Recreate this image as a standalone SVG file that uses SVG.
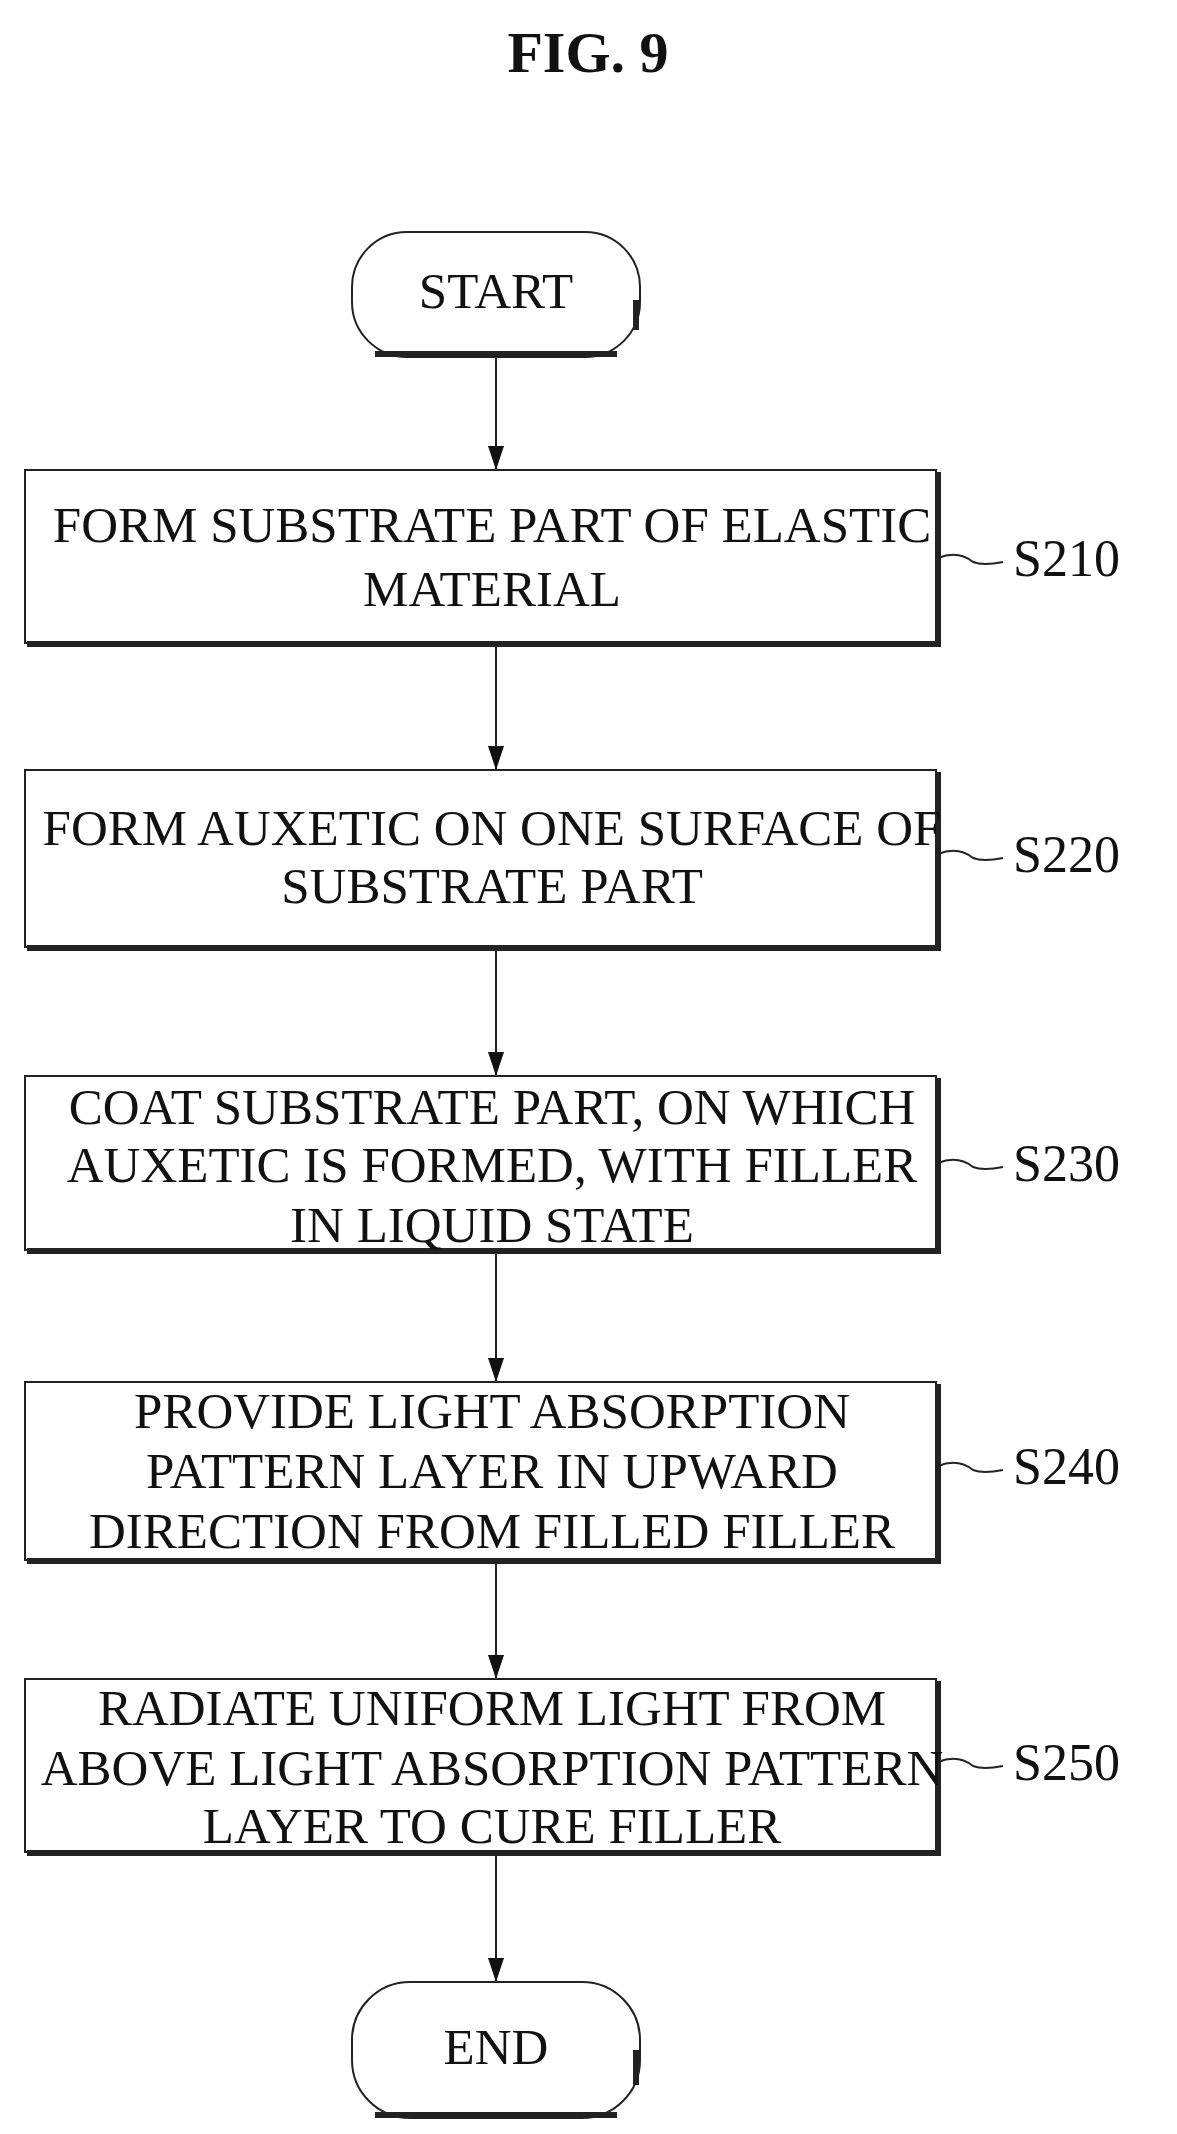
<svg xmlns="http://www.w3.org/2000/svg" width="1177" height="2134" viewBox="0 0 1177 2134">
<style>
text{font-family:"Liberation Serif","Times New Roman",serif;fill:#111;text-anchor:middle}
.t{font-size:51px}
.box{fill:#fff;stroke:#222;stroke-width:2}
.sh{fill:none;stroke:#222;stroke-width:6}
.ln{fill:none;stroke:#222;stroke-width:2}
.lb{font-size:52px;text-anchor:start}
</style>
<defs><marker id="a" markerWidth="24" markerHeight="16" refX="24" refY="8" orient="auto" markerUnits="userSpaceOnUse" viewBox="0 0 24 16"><path d="M0,0 L24,8 L0,16 Z" fill="#111"/></marker></defs>
<rect width="1177" height="2134" fill="#fff"/>
<text x="588" y="72" style="font-size:58px;font-weight:bold">FIG. 9</text>
<g id="connectors">
<line class="ln" x1="496" y1="357" x2="496" y2="470" marker-end="url(#a)"/>
<line class="ln" x1="496" y1="646" x2="496" y2="770" marker-end="url(#a)"/>
<line class="ln" x1="496" y1="950" x2="496" y2="1076" marker-end="url(#a)"/>
<line class="ln" x1="496" y1="1253" x2="496" y2="1382" marker-end="url(#a)"/>
<line class="ln" x1="496" y1="1563" x2="496" y2="1679" marker-end="url(#a)"/>
<line class="ln" x1="496" y1="1855" x2="496" y2="1982" marker-end="url(#a)"/>
</g>
<g id="start"><rect class="box" x="352" y="232" width="288" height="125" rx="55"/><path class="sh" d="M375,354 H617 M636,300 V330"/><text class="t" x="496" y="308">START</text></g>
<g id="s210"><rect class="box" x="25" y="470" width="911" height="173"/><path class="sh" d="M27,644 H938 V472"/><text class="t" x="492" y="542">FORM SUBSTRATE PART OF ELASTIC</text><text class="t" x="492" y="606">MATERIAL</text><path class="ln" d="M938,558 q20,-8 35,4 q10,4 30,0"/><text class="lb" x="1013" y="576">S210</text></g>
<g id="s220"><rect class="box" x="25" y="770" width="911" height="177"/><path class="sh" d="M27,948 H938 V772"/><text class="t" x="492" y="845">FORM AUXETIC ON ONE SURFACE OF</text><text class="t" x="492" y="903">SUBSTRATE PART</text><path class="ln" d="M938,854 q20,-8 35,4 q10,4 30,0"/><text class="lb" x="1013" y="872">S220</text></g>
<g id="s230"><rect class="box" x="25" y="1076" width="911" height="174"/><path class="sh" d="M27,1251 H938 V1078"/><text class="t" x="492" y="1124">COAT SUBSTRATE PART, ON WHICH</text><text class="t" x="492" y="1182">AUXETIC IS FORMED, WITH FILLER</text><text class="t" x="492" y="1242">IN LIQUID STATE</text><path class="ln" d="M938,1163 q20,-8 35,4 q10,4 30,0"/><text class="lb" x="1013" y="1181">S230</text></g>
<g id="s240"><rect class="box" x="25" y="1382" width="911" height="178"/><path class="sh" d="M27,1561 H938 V1384"/><text class="t" x="492" y="1428">PROVIDE LIGHT ABSORPTION</text><text class="t" x="492" y="1488">PATTERN LAYER IN UPWARD</text><text class="t" x="492" y="1548">DIRECTION FROM FILLED FILLER</text><path class="ln" d="M938,1466 q20,-8 35,4 q10,4 30,0"/><text class="lb" x="1013" y="1484">S240</text></g>
<g id="s250"><rect class="box" x="25" y="1679" width="911" height="173"/><path class="sh" d="M27,1853 H938 V1681"/><text class="t" x="492" y="1725">RADIATE UNIFORM LIGHT FROM</text><text class="t" x="492" y="1785">ABOVE LIGHT ABSORPTION PATTERN</text><text class="t" x="492" y="1843">LAYER TO CURE FILLER</text><path class="ln" d="M938,1762 q20,-8 35,4 q10,4 30,0"/><text class="lb" x="1013" y="1780">S250</text></g>
<g id="end"><rect class="box" x="352" y="1982" width="288" height="136" rx="58"/><path class="sh" d="M375,2115 H617 M636,2050 V2085"/><text class="t" x="496" y="2064">END</text></g>
</svg>
